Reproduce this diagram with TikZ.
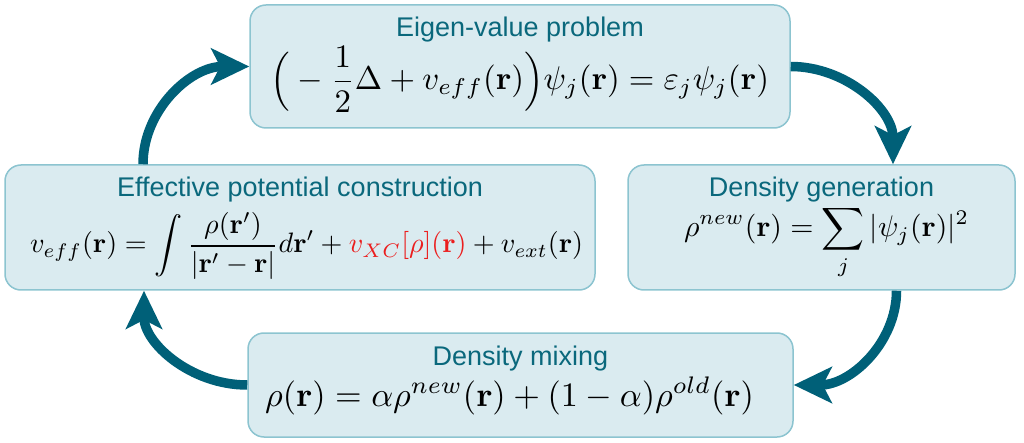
\documentclass[tikz,border=0pt]{standalone}
\usepackage{amsmath}
\usepackage[no-math]{fontspec}
\setmainfont{Liberation Sans}
\usetikzlibrary{arrows.meta,calc}
\definecolor{cyccol}{RGB}{0,96,120}
\definecolor{boxfill}{RGB}{218,235,240}
\definecolor{boxline}{RGB}{140,196,208}
\definecolor{titlec}{RGB}{10,104,124}
\definecolor{xcred}{RGB}{235,30,30}
\begin{document}
\begin{tikzpicture}[x=1pt,y=-1pt]
\useasboundingbox (0,0) rectangle (1024,443);
\tikzset{
 box/.style={draw=boxline, fill=boxfill, line width=1.5pt, rounded corners=16pt, inner sep=0pt},
 ttl/.style={text=titlec, font=\fontsize{27}{32}\selectfont, anchor=base, inner sep=0pt},
 eq/.style={inner sep=0pt, anchor=base, font=\fontsize{10}{12}\selectfont},
 cyc/.style={draw=cyccol, line width=9.5pt, -{Stealth[length=38pt,width=36pt,inset=9pt]}}
}
\node[box, minimum width=540pt, minimum height=123pt] (top) at (520,66.5) {};
\node[box, minimum width=590pt, minimum height=125pt] (left) at (300,227.5) {};
\node[box, minimum width=387pt, minimum height=125pt] (right) at (821.5,227.5) {};
\node[box, minimum width=545pt, minimum height=104pt] (bottom) at (520.5,385) {};

\node[ttl] (toptitle) at (520,37) {Eigen-value problem};
\node[eq, scale=3.28] (topeq) at (520,90) {$\displaystyle \Bigl({}-\frac{1}{2}\Delta+v_{eff}(\mathbf{r})\Bigr)\psi_j(\mathbf{r})=\varepsilon_j\psi_j(\mathbf{r})$};

\node[ttl] (lefttitle) at (300,197) {Effective potential construction};
\node[eq, scale=2.81] (lefteq) at (306.5,253) {$\displaystyle v_{eff}(\mathbf{r})=\int\frac{\rho(\mathbf{r}')}{|\mathbf{r}'-\mathbf{r}|}d\mathbf{r}'+\textcolor{xcred}{v_{XC}[\rho](\mathbf{r})}+v_{ext}(\mathbf{r})$};

\node[ttl] (righttitle) at (821.5,197) {Density generation};
\node[eq, scale=2.98] (righteq) at (826.5,237) {$\displaystyle \rho^{new}(\mathbf{r})=\sum_j|\psi_j(\mathbf{r})|^2$};

\node[ttl] (bottomtitle) at (520.5,365) {Density mixing};
\node[eq, scale=3.42] (bottomeq) at (509.5,406) {$\rho(\mathbf{r})=\alpha\rho^{new}(\mathbf{r})+(1-\alpha)\rho^{old}(\mathbf{r})$};

\draw[cyc] (top.east) .. controls +(55,0) and +(0,-55) .. ([xshift=71.5pt]right.north);
\draw[cyc] ([xshift=75pt]right.south) .. controls +(0,52) and +(57,0) .. (bottom.east);
\draw[cyc] (bottom.west) .. controls +(-57,0) and +(0,52) .. ([xshift=-156pt]left.south);
\draw[cyc] ([xshift=-157pt]left.north) .. controls +(0,-54) and +(-59,0) .. (top.west);
\end{tikzpicture}
\end{document}
